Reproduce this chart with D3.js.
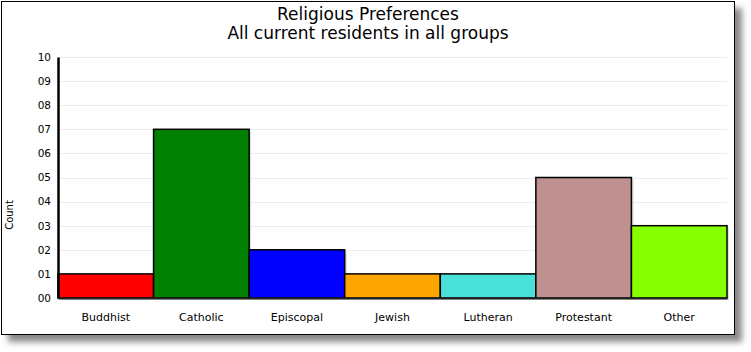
<!DOCTYPE html>
<html><head><meta charset="utf-8">
<script src="https://cdn.jsdelivr.net/npm/d3@7"></script>
<style>body{margin:0;background:#fff;}svg{display:block;}</style>
</head><body>
<script>
const categories = ["Buddhist","Catholic","Episcopal","Jewish","Lutheran","Protestant","Other"];
const counts = [1,7,2,1,1,5,3];
const barColors = ["#ff0000","#008000","#0000ff","#ffa500","#48e0d8","#bf9090","#88ff00"];
const yTicks = [0,1,2,3,4,5,6,7,8,9,10];
const titleLines = ["Religious Preferences","All current residents in all groups"];
const yLabel = "Count";

const W = 751, H = 352;
const svg = d3.select("body").append("svg").attr("width", W).attr("height", H);
const defs = svg.append("defs");
const f = defs.append("filter").attr("id","blur").attr("x","-10%").attr("y","-10%").attr("width","130%").attr("height","130%");
f.append("feGaussianBlur").attr("stdDeviation", 3);

// drop shadow of frame
svg.append("rect").attr("x", 8).attr("y", 8).attr("width", 734).attr("height", 334)
  .attr("fill", "#888").attr("filter","url(#blur)");
svg.append("rect").attr("x", 1.5).attr("y", 1.5).attr("width", 733).attr("height", 333)
  .attr("fill", "#fff").attr("stroke", "#000").attr("stroke-width", 1);

const margin = {left: 58, right: 727, top: 57, bottom: 298};
const x = d3.scaleBand().domain(categories).range([margin.left, margin.right]).padding(0);
const y = d3.scaleLinear().domain([0,10]).range([margin.bottom, margin.top]);

// gridlines
svg.append("g").selectAll("line").data(yTicks.filter(d => d > 0)).join("line")
  .attr("x1", margin.left).attr("x2", margin.right)
  .attr("y1", d => Math.round(y(d)) + 0.5).attr("y2", d => Math.round(y(d)) + 0.5)
  .attr("stroke", "#ececec").attr("stroke-width", 1);

// bars shadow
svg.append("g").selectAll("rect").data(counts).join("rect")
  .attr("x", (d,i) => x(categories[i]) + 2).attr("y", d => y(d) + 2)
  .attr("width", x.bandwidth()).attr("height", d => y(0) - y(d))
  .attr("fill", "#ccc").attr("opacity", 0.6);

// bars
svg.append("g").selectAll("rect").data(counts).join("rect")
  .attr("x", (d,i) => x(categories[i])).attr("y", d => y(d))
  .attr("width", x.bandwidth()).attr("height", d => y(0) - y(d))
  .attr("fill", (d,i) => barColors[i]).attr("stroke", "#000").attr("stroke-width", 1.5);

// y axis
const yAxis = d3.axisLeft(y).tickValues(yTicks).tickSize(0).tickPadding(7)
  .tickFormat(d => d3.format("02d")(d));
const ya = svg.append("g").attr("transform", `translate(${margin.left},0)`).call(yAxis);
ya.select(".domain").attr("stroke", "#000").attr("stroke-width", 2.5);
ya.selectAll("text").attr("font-family", "DejaVu Sans, Verdana, sans-serif").attr("font-size", 10.5).attr("fill", "#000");

// x axis
const xAxis = d3.axisBottom(x).tickSize(0).tickPadding(15);
const xa = svg.append("g").attr("transform", `translate(0,${margin.bottom})`).call(xAxis);
xa.select(".domain").attr("stroke", "#222").attr("stroke-width", 2);
xa.selectAll("text").attr("font-family", "DejaVu Sans, Verdana, sans-serif").attr("font-size", 11).attr("fill", "#000");

// y label
svg.append("text").attr("transform", `translate(13,215) rotate(-90)`)
  .attr("text-anchor", "middle").attr("font-family", "DejaVu Sans, Verdana, sans-serif")
  .attr("font-size", 10).text(yLabel);

// title
svg.append("g").selectAll("text").data(titleLines).join("text")
  .attr("x", 368).attr("y", (d,i) => 20 + i * 19)
  .attr("text-anchor", "middle").attr("font-family", "DejaVu Sans, Verdana, sans-serif")
  .attr("font-size", 17).attr("fill", "#000").text(d => d);
</script>
</body></html>
